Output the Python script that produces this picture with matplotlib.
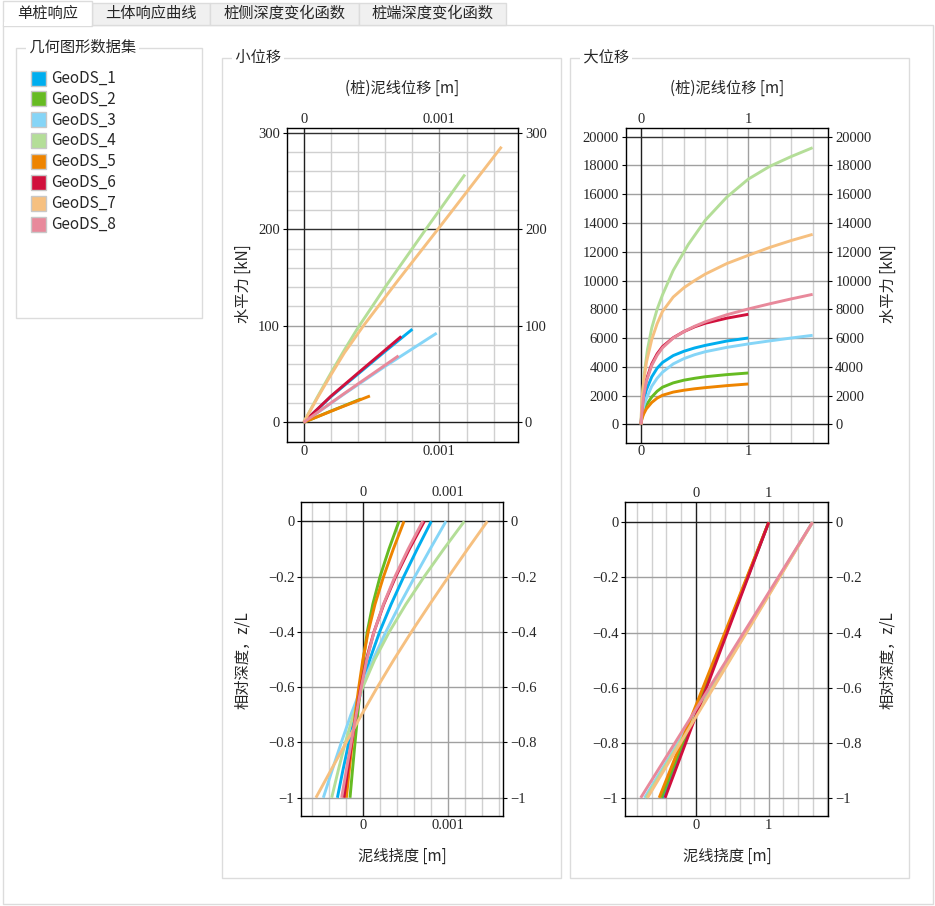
import matplotlib
matplotlib.use("Agg")
import matplotlib.pyplot as plt
from matplotlib.patches import Rectangle
from matplotlib.ticker import MultipleLocator, FuncFormatter, NullLocator

plt.rcParams['font.family'] = ['Noto Sans CJK SC', 'DejaVu Sans']

W, H = 935, 906

# ---- data ----
names = ["GeoDS_1", "GeoDS_2", "GeoDS_3", "GeoDS_4", "GeoDS_5", "GeoDS_6", "GeoDS_7", "GeoDS_8"]
colors = ["#00AEEF", "#66BB22", "#85D5F7", "#B4DE98", "#EE8400", "#D1103C", "#F6C080", "#E8899B"]
tabs = ["单桩响应", "土体响应曲线", "桩侧深度变化函数", "桩端深度变化函数"]

# small displacement: mudline displacement [m] vs horizontal force [kN]
small_disp = [
    [0, 0.0002, 0.0004, 0.0006, 0.000801],
    [0, 0.0002, 0.000422],
    [0, 0.0003, 0.0006, 0.00098],
    [0, 0.0001, 0.0002, 0.0003, 0.0004, 0.0006, 0.0009, 0.001188],
    [0, 0.00025, 0.000488],
    [0, 0.0002, 0.0004, 0.000719],
    [0, 0.0001, 0.0002, 0.0003, 0.00044, 0.0007, 0.001, 0.001458],
    [0, 0.0003, 0.000699],
]
small_force = [
    [0, 26.5, 50, 73.5, 96.5],
    [0, 11.6, 24.2],
    [0, 29.5, 58, 92.4],
    [0, 26, 51, 75, 98, 140, 200, 256.7],
    [0, 14.2, 27.3],
    [0, 27, 51, 89],
    [0, 25, 49, 72, 100, 148, 202, 285.5],
    [0, 30, 68.9],
]

# large displacement
large_disp = [
    [0, 0.005, 0.01, 0.025, 0.05, 0.1, 0.15, 0.2, 0.3, 0.4, 0.5, 0.6, 0.8, 1.0],
    [0, 0.005, 0.01, 0.025, 0.05, 0.1, 0.15, 0.2, 0.3, 0.4, 0.5, 0.6, 0.8, 1.0],
    [0, 0.005, 0.01, 0.025, 0.05, 0.1, 0.15, 0.2, 0.3, 0.4, 0.5, 0.6, 0.8, 1.0, 1.2, 1.4, 1.6],
    [0, 0.004, 0.012, 0.03, 0.06, 0.1, 0.15, 0.2, 0.3, 0.44, 0.6, 0.8, 1.0, 1.2, 1.4, 1.6],
    [0, 0.005, 0.01, 0.025, 0.05, 0.1, 0.15, 0.2, 0.3, 0.4, 0.5, 0.6, 0.8, 1.0],
    [0, 0.005, 0.01, 0.025, 0.05, 0.1, 0.15, 0.2, 0.3, 0.4, 0.5, 0.6, 0.8, 1.0],
    [0, 0.004, 0.01, 0.025, 0.05, 0.1, 0.15, 0.2, 0.3, 0.4, 0.5, 0.6, 0.8, 1.0, 1.2, 1.4, 1.6],
    [0, 0.005, 0.01, 0.025, 0.05, 0.1, 0.15, 0.2, 0.3, 0.4, 0.5, 0.6, 0.8, 1.0, 1.2, 1.4, 1.6],
]
large_force = [
    [0, 600, 1000, 1700, 2400, 3300, 3900, 4300, 4780, 5080, 5310, 5490, 5790, 6002],
    [0, 290, 500, 900, 1350, 1900, 2300, 2580, 2880, 3070, 3200, 3310, 3455, 3569],
    [0, 450, 720, 1250, 1800, 2650, 3200, 3620, 4200, 4570, 4840, 5050, 5350, 5590, 5800, 6000, 6188],
    [0, 900, 1900, 3500, 5200, 6700, 8000, 9000, 10700, 12500, 14200, 15800, 17050, 17940, 18620, 19235],
    [0, 270, 420, 720, 1080, 1520, 1820, 2020, 2240, 2370, 2470, 2550, 2690, 2804],
    [0, 620, 1150, 2150, 3100, 4200, 4900, 5400, 6020, 6450, 6780, 7030, 7380, 7650],
    [0, 950, 1800, 3000, 4300, 5900, 7000, 7850, 8850, 9500, 10000, 10450, 11180, 11750, 12300, 12780, 13210],
    [0, 500, 950, 2000, 3000, 4100, 4800, 5320, 6000, 6450, 6820, 7130, 7620, 8020, 8380, 8720, 9038],
]

# deflection along pile, small displacement [mm]
depth = [0, -0.1, -0.2, -0.3, -0.4, -0.5, -0.6, -0.7, -0.8, -0.9, -1.0]
defl_small_mm = [
    [0.801, 0.636, 0.478, 0.33, 0.195, 0.08, -0.01, -0.09, -0.165, -0.235, -0.30],
    [0.422, 0.305, 0.20, 0.115, 0.05, 0.005, -0.03, -0.062, -0.093, -0.123, -0.152],
    [0.973, 0.788, 0.608, 0.433, 0.268, 0.118, -0.017, -0.142, -0.254, -0.361, -0.465],
    [1.188, 0.948, 0.718, 0.503, 0.308, 0.138, -0.002, -0.112, -0.207, -0.289, -0.367],
    [0.481, 0.356, 0.241, 0.141, 0.061, -0.001, -0.049, -0.091, -0.126, -0.161, -0.195],
    [0.719, 0.544, 0.384, 0.244, 0.129, 0.039, -0.026, -0.081, -0.131, -0.178, -0.223],
    [1.458, 1.228, 1.003, 0.783, 0.568, 0.363, 0.168, -0.017, -0.197, -0.375, -0.552],
    [0.70, 0.53, 0.375, 0.24, 0.13, 0.045, -0.02, -0.08, -0.138, -0.195, -0.25],
]

# deflection along pile, large displacement [m]
depth_large = [0, -1.0]
defl_large = [
    [1.0, -0.45],
    [1.0, -0.47],
    [1.6, -0.70],
    [1.6, -0.68],
    [1.0, -0.50],
    [1.0, -0.42],
    [1.6, -0.66],
    [1.6, -0.753],
]

txt_color = "#262626"
box_color = "#DCDCDC"

fig = plt.figure(figsize=(W / 100, H / 100), dpi=100)
bg = fig.add_axes([0, 0, 1, 1])
bg.set_xlim(0, W)
bg.set_ylim(H, 0)
bg.axis("off")

# outer panel + tabs
bg.add_patch(Rectangle((2.5, 24.5), 930, 879, fill=False, ec=box_color, lw=1))
tab_x = [3, 92, 210, 359, 506]
for i, t in enumerate(tabs):
    x0, x1 = tab_x[i], tab_x[i + 1]
    if i == 0:
        bg.add_patch(Rectangle((x0, 0.5), x1 - x0, 25, fc="white", ec=box_color, lw=1, zorder=3))
        bg.add_patch(Rectangle((x0 + 1, 22), x1 - x0 - 2, 4, fc="white", ec="none", zorder=4))
    else:
        bg.add_patch(Rectangle((x0, 2.5), x1 - x0, 22, fc="#F0F0F0", ec=box_color, lw=1, zorder=2))
    bg.text((x0 + x1) / 2, 13, t, ha="center", va="center", fontsize=11, color=txt_color, zorder=5)


def group_box(x0, y0, x1, y1, title):
    bg.add_patch(Rectangle((x0, y0), x1 - x0, y1 - y0, fill=False, ec=box_color, lw=1))
    bg.text(x0 + 10, y0, " " + title + " ", ha="left", va="center", fontsize=11, color=txt_color,
            bbox=dict(fc="white", ec="none", pad=0))


group_box(15.5, 47.5, 201.5, 317.5, "几何图形数据集")
group_box(221.5, 57.5, 560.5, 877.5, "小位移")
group_box(569.5, 57.5, 908.5, 877.5, "大位移")

# legend
for i, n in enumerate(names):
    y = 70.5 + i * 20.9
    bg.add_patch(Rectangle((30.5, y), 15, 15, fc=colors[i], ec="#C8C8C8", lw=1))
    bg.text(51, y + 7.5, n, ha="left", va="center", fontsize=11, color=txt_color)


def px_axes(l, t, r, b):
    return fig.add_axes([l / W, 1 - b / H, (r - l) / W, (b - t) / H])


def fmt(v, pos):
    if abs(v) < 1e-12:
        return "0"
    return f"{v:g}".replace("-", "\u2212")


def style(ax, xlim, ylim, xmaj, xmin, ymaj, ymin, dark_y=()):
    ax.set_xlim(*xlim)
    ax.set_ylim(*ylim)
    ax.xaxis.set_major_locator(MultipleLocator(xmaj))
    ax.xaxis.set_minor_locator(MultipleLocator(xmin))
    ax.yaxis.set_major_locator(MultipleLocator(ymaj))
    if ymin:
        ax.yaxis.set_minor_locator(MultipleLocator(ymin))
    else:
        ax.yaxis.set_minor_locator(NullLocator())
    ax.xaxis.set_major_formatter(FuncFormatter(fmt))
    ax.yaxis.set_major_formatter(FuncFormatter(fmt))
    ax.grid(which="minor", color="#D0D0D0", lw=1.0)
    ax.grid(which="major", color="#A0A0A0", lw=1.0)
    ax.set_axisbelow(True)
    ax.axhline(0, color="#202020", lw=0.9, zorder=1.5)
    ax.axvline(0, color="#202020", lw=0.9, zorder=1.5)
    for v in dark_y:
        ax.axhline(v, color="#303030", lw=0.9, zorder=1.5)
    ax.tick_params(which="both", top=True, right=True, labeltop=True, labelright=True,
                   direction="out", labelsize=10.5, labelcolor=txt_color, labelfontfamily="Liberation Serif")
    ax.tick_params(which="minor", length=0)
    ax.tick_params(axis="y", which="major", length=3, width=0.8, pad=2)
    ax.tick_params(axis="x", which="major", length=0, pad=2)
    for s in ax.spines.values():
        s.set_color("black")
        s.set_linewidth(1.0)


# top-left: small displacement force curves
ax1 = px_axes(287, 128.3, 518, 442)
style(ax1, (-0.000123, 0.001579), (-20.4, 304.6), 0.001, 0.0002, 100, 20, dark_y=(200, 300))
for i in range(8):
    ax1.plot(small_disp[i], small_force[i], color=colors[i], lw=2.1, solid_capstyle="butt")

# top-right: large displacement force curves
ax2 = px_axes(625.7, 128.3, 828.3, 442.7)
style(ax2, (-0.143, 1.746), (-1279, 20584), 1, 0.2, 2000, None, dark_y=(20000,))
for i in range(8):
    ax2.plot(large_disp[i], large_force[i], color=colors[i], lw=2.1, solid_capstyle="butt")

# bottom-left: deflection profiles small displacement
ax3 = px_axes(301.3, 501.7, 503.3, 816)
style(ax3, (-0.723e-3, 1.645e-3), (-1.066, 0.071), 0.001, 0.0002, 0.2, None)
for i in range(8):
    ax3.plot([v / 1000 for v in defl_small_mm[i]], depth, color=colors[i], lw=2.1, solid_capstyle="butt")

# bottom-right: deflection profiles large displacement
ax4 = px_axes(625.3, 502.3, 828.3, 816)
style(ax4, (-0.964, 1.816), (-1.066, 0.0726), 1, 0.2, 0.2, None)
for i in range(8):
    ax4.plot(defl_large[i], depth_large, color=colors[i], lw=2.1, solid_capstyle="butt")

# axis titles
lab = dict(fontsize=11, color=txt_color, ha="center", va="center")
bg.text(402, 88, "(桩)泥线位移 [m]", **lab)
bg.text(727, 88, "(桩)泥线位移 [m]", **lab)
bg.text(243, 284, "水平力 [kN]", rotation=90, **lab)
bg.text(888, 284, "水平力 [kN]", rotation=90, **lab)
bg.text(402, 856, "泥线挠度 [m]", **lab)
bg.text(727, 856, "泥线挠度 [m]", **lab)
bg.text(243, 660, "相对深度，z/L", rotation=90, **lab)
bg.text(888, 660, "相对深度，z/L", rotation=90, **lab)

fig.savefig("out.png", dpi=100)
